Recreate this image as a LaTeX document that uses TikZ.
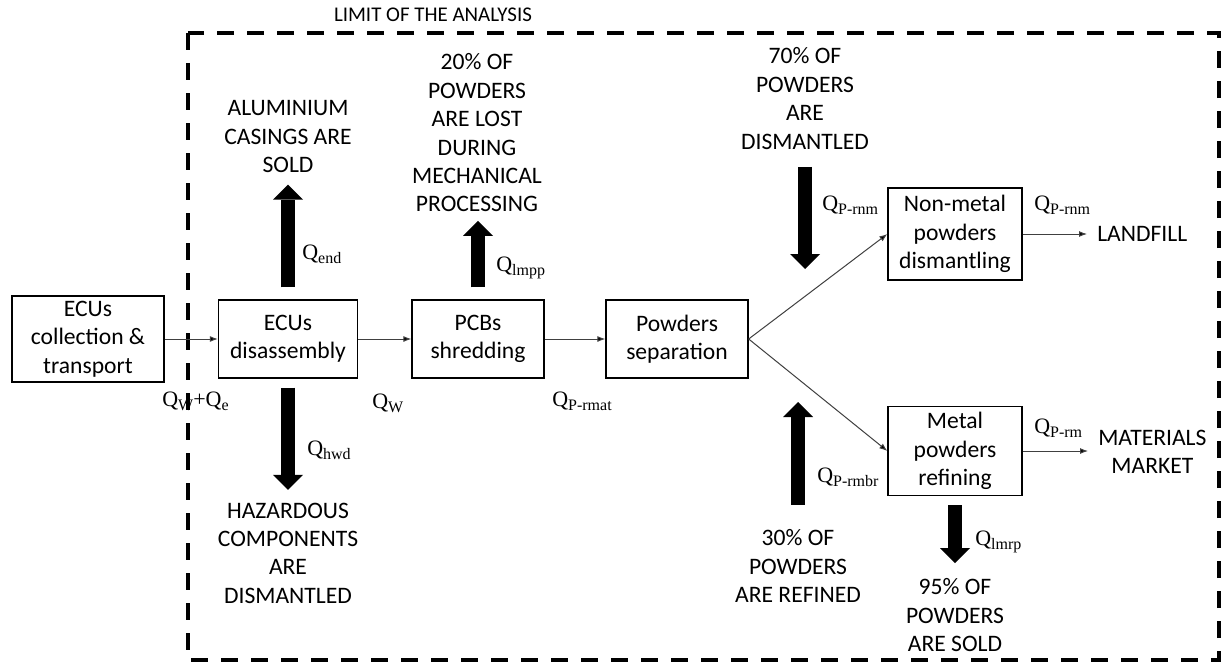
\documentclass[tikz,border=0pt]{standalone}
\usepackage{fontspec}
\setmainfont{Carlito}
\newfontfamily\tnr{Liberation Serif}
\usetikzlibrary{arrows.meta}
\newcommand{\Qs}[1]{Q\raisebox{-3.5pt}{\fontsize{12}{13}\selectfont #1}}
\begin{document}
\begin{tikzpicture}[x=0.75pt,y=-0.75pt,
  box/.style={draw=black,line width=1pt,align=center,inner sep=0pt,font=\fontsize{17.7}{21.3}\selectfont},
  txt/.style={align=center,inner sep=0pt,font=\fontsize{17.7}{21.3}\selectfont},
  ql/.style={inner sep=0pt,anchor=base west,font=\tnr\fontsize{16.5}{18}\selectfont},
  flow/.style={draw=black!75,line width=0.75pt,-{Latex[length=6pt,width=4.5pt,fill=black]}},
  fat/.style={line width=10.5pt,-{Triangle[length=11.25pt,width=22.5pt,line width=0pt]}},
  limitbox/.style={line width=2.6pt,dash pattern=on 12.75pt off 9.75pt}
]
\useasboundingbox (0,0) rectangle (1226,667);
\fill[white] (0,0) rectangle (1226,667);

% limit of the analysis
\draw[limitbox] (188,33) rectangle (1219,660);
\node[txt,font=\fontsize{15.7}{18}\selectfont] (limit) at (433,15) {LIMIT OF THE ANALYSIS};

% process boxes
\node[box,minimum width=114pt,minimum height=64.5pt] (b1) at (88,339) {ECUs\\collection \&\\transport};
\node[box,minimum width=104.25pt,minimum height=58.5pt] (b2) at (288,339) {ECUs\\disassembly};
\node[box,minimum width=99pt,minimum height=58.5pt] (b3) at (478,339) {PCBs\\shredding};
\node[box,minimum width=106.5pt,minimum height=58.5pt] (b4) at (677,339) {Powders\\separation};
\node[box,minimum width=100.5pt,minimum height=69pt] (b5) at (955,234) {Non-metal\\powders\\dismantling};
\node[box,minimum width=100.5pt,minimum height=66.75pt] (b6) at (955,451) {Metal\\powders\\refining};

% outputs
\node[txt,anchor=west] (landfill) at (1097,234) {LANDFILL};
\node[txt,anchor=west] (market) at (1098,452) {MATERIALS\\MARKET};

% side texts
\node[txt,anchor=north] (alu) at (288,100.5) {ALUMINIUM\\CASINGS ARE\\SOLD};
\node[txt,anchor=north] (lost) at (477,53.5) {20\% OF\\POWDERS\\ARE LOST\\DURING\\MECHANICAL\\PROCESSING};
\node[txt,anchor=north] (dism) at (805,47.5) {70\% OF\\POWDERS\\ARE\\DISMANTLED};
\node[txt,anchor=north] (haz) at (288,502.5) {HAZARDOUS\\COMPONENTS\\ARE\\DISMANTLED};
\node[txt,anchor=north] (ref) at (798,529.5) {30\% OF\\POWDERS\\ARE REFINED};
\node[txt,anchor=north] (sold) at (955,578.5) {95\% OF\\POWDERS\\ARE SOLD};

% thin flows
\draw[flow] (b1.east) -- (b2.west);
\draw[flow] (b2.east) -- (b3.west);
\draw[flow] (b3.east) -- (b4.west);
\draw[flow] (b4.east) -- (b5.west);
\draw[flow] (b4.east) -- (b6.west);
\draw[flow,shorten >=7.5pt] (b5.east) -- (landfill.west);
\draw[flow,shorten >=7.5pt] (b6.east) -- (b6.east -| market.west);

% fat flows
\coordinate (p70) at (805,269);
\coordinate (p30) at (798,402);
\draw[fat,shorten <=9pt,shorten >=8.6pt] (b2.north) -- (b2.north |- alu.south);
\draw[fat,shorten <=9pt,shorten >=6.4pt] (b3.north) -- (b3.north |- lost.south);
\draw[fat,shorten <=13pt] (dism.south) -- (p70);
\draw[fat,shorten <=18.4pt] (ref.north) -- (p30);
\draw[fat,shorten <=6.75pt,shorten >=9.4pt] (b2.south) -- (b2.south |- haz.north);
\draw[fat,shorten <=6.75pt,shorten >=11.6pt] (b6.south) -- (b6.south |- sold.north);

% flow labels
\node[ql] (qend) at (302,259) {\Qs{end}};
\node[ql] (qlmpp) at (496,271) {\Qs{lmpp}};
\node[ql] (qwe) at (162,406) {\Qs{W}+\Qs{e}};
\node[ql] (qw) at (372,408) {\Qs{W}};
\node[ql] (qprmat) at (552,406) {\Qs{P-rmat}};
\node[ql] (qhwd) at (307,455) {\Qs{hwd}};
\node[ql] (qprnm1) at (822,210) {\Qs{P-rnm}};
\node[ql] (qprnm2) at (1034,210) {\Qs{P-rnm}};
\node[ql] (qprm) at (1034,433) {\Qs{P-rm}};
\node[ql] (qprmbr) at (817,482) {\Qs{P-rmbr}};
\node[ql] (qlmrp) at (975,545) {\Qs{lmrp}};
\end{tikzpicture}
\end{document}
